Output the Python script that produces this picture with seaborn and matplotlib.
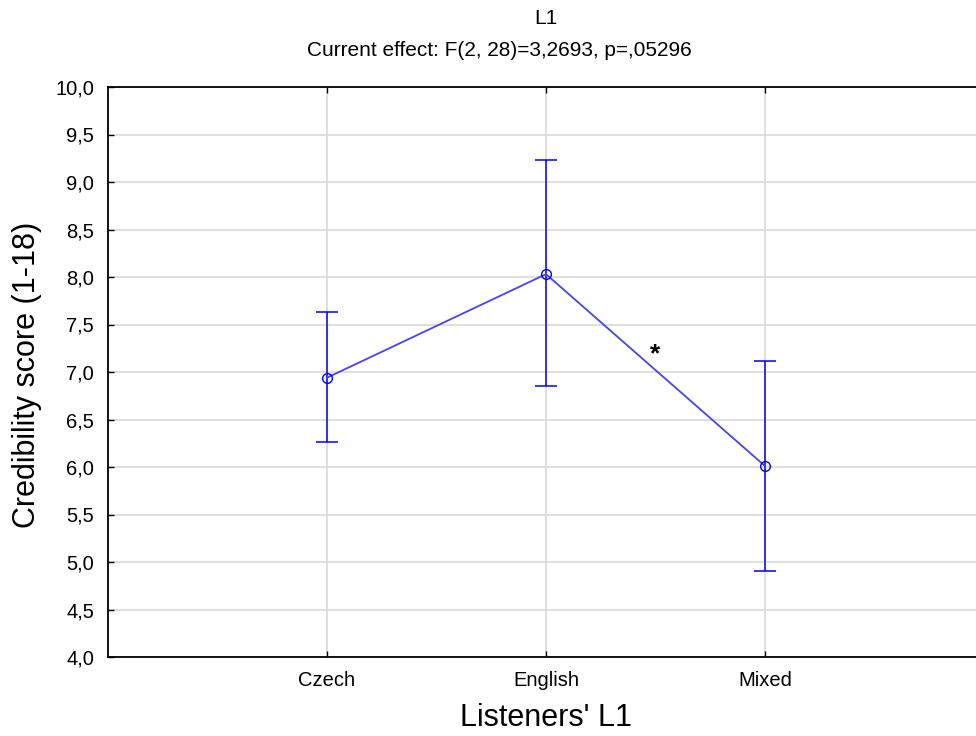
import matplotlib
matplotlib.use("Agg")
import matplotlib.pyplot as plt
import seaborn as sns
import pandas as pd
import numpy as np

categories = ["Czech", "English", "Mixed"]
means = [6.94, 8.03, 6.01]
upper = [7.63, 9.23, 7.12]
lower = [6.26, 6.85, 4.91]
yticks = [4.0, 4.5, 5.0, 5.5, 6.0, 6.5, 7.0, 7.5, 8.0, 8.5, 9.0, 9.5, 10.0]
title1 = "L1"
title2 = "Current effect: F(2, 28)=3,2693, p=,05296"
xlabel = "Listeners' L1"
ylabel = "Credibility score (1-18)"
star_pos = (1.5, 7.19)

sns.set_style("white", {"xtick.direction": "in", "ytick.direction": "in"})
plt.rcParams['font.family'] = ['Liberation Sans', 'DejaVu Sans']
plt.rcParams['text.color'] = 'black'
plt.rcParams['xtick.color'] = 'black'
plt.rcParams['ytick.color'] = 'black'
plt.rcParams['xtick.labelcolor'] = 'black'
plt.rcParams['ytick.labelcolor'] = 'black'

df = pd.DataFrame({"pos": np.arange(len(categories)), "mean": means,
                   "cat": categories})

fig = plt.figure(figsize=(9.76, 7.36), dpi=100)
ax = fig.add_axes([108/976, 1-657/736, 1-108/976, (657-87)/736])

ax.errorbar(df["pos"], df["mean"],
            yerr=[np.array(means) - np.array(lower), np.array(upper) - np.array(means)],
            fmt="none", ecolor="#0000ff", elinewidth=1.1, capsize=8, capthick=1.1, zorder=3)
sns.lineplot(data=df, x="pos", y="mean", ax=ax, color="#4444ff", linewidth=1.3,
             marker="o", markersize=7, markerfacecolor="none",
             markeredgecolor="#0000ff", markeredgewidth=1.0, zorder=4)

ax.text(star_pos[0], star_pos[1], "*", ha="center", va="center", fontsize=19,
        fontweight="bold", color="black")

ax.set_xlim(-1, -1 + (976-108)/219)
ax.set_ylim(4.0, 10.0)
ax.set_xticks(df["pos"])
ax.set_xticklabels(categories, fontsize=14.5)
ax.set_yticks(yticks)
ax.set_yticklabels([f"{v:.1f}".replace(".", ",") for v in yticks], fontsize=14.5)
ax.grid(True, color="#d9d9d9", linewidth=1.2)
ax.set_axisbelow(True)
ax.tick_params(direction="in", length=4, width=1, color="black", top=True,
               left=True, bottom=True)
ax.tick_params(axis="y", pad=10)
ax.tick_params(axis="x", pad=10)
for s in ["top", "left", "bottom"]:
    ax.spines[s].set_color("black")
    ax.spines[s].set_linewidth(1.3)
ax.spines["right"].set_visible(False)
ax.set_xlabel("")
ax.set_ylabel("")

fig.text(546/976, 1-18/736, title1, ha="center", va="center", fontsize=15)
fig.text(499/976, 1-50/736, title2, ha="center", va="center", fontsize=15)
fig.text(546/976, 1-718/736, xlabel, ha="center", va="center", fontsize=22)
fig.text(27/976, 1-375/736, ylabel, ha="center", va="center", fontsize=22, rotation=90)

fig.savefig("out.png", dpi=100)
